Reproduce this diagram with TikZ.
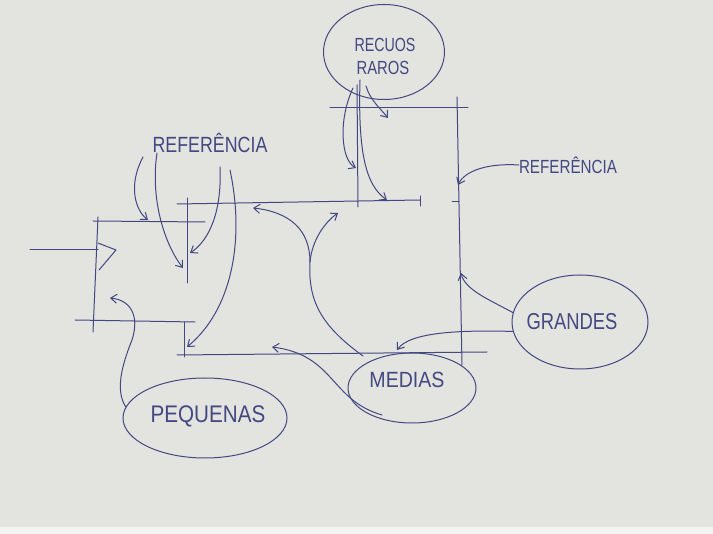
\documentclass[tikz,border=0pt]{standalone}
\usepackage{fontspec}
\setmainfont{Liberation Sans}
\usetikzlibrary{arrows.meta,shapes.geometric}
\definecolor{ink}{HTML}{434880}
\definecolor{paper}{HTML}{E3E3E0}
\newcommand\handtext[3]{\fontsize{#1}{#1}\selectfont\scalebox{#2}[1]{#3}}
\tikzset{
  pen/.style={draw=ink, line width=1pt, line cap=round, line join=round},
  arr/.style={pen, -{Straight Barb[length=6pt,width=9pt]}},
  ell/.style={ellipse, draw=ink, line width=1pt, inner sep=0pt},
  lbl/.style={text=ink, inner sep=0pt},
}
\begin{document}
\begin{tikzpicture}[x=1pt,y=-1pt]
\useasboundingbox (0,0) rectangle (713,534);
\fill[paper] (0,0) rectangle (713,534);
\fill[white!55!paper] (0,527) rectangle (713,534);

% ellipses
\node[ell, minimum width=121pt, minimum height=95pt] (recuos) at (384,52) {};
\node[ell, minimum width=136pt, minimum height=94pt] (grandes) at (580,322) {};
\node[ell, minimum width=128pt, minimum height=70pt] (medias) at (412,388) {};
\node[ell, minimum width=164pt, minimum height=80pt] (pequenas) at (205,418) {};

% labels
\node[lbl] (t1) at (385,45) {\handtext{19}{0.75}{RECUOS}};
\node[lbl] (t2) at (383,68) {\handtext{19}{0.78}{RAROS}};
\node[lbl] (ref1) at (210,143) {\handtext{22}{0.81}{REFERÊNCIA}};
\node[lbl] (ref2) at (568,165) {\handtext{19}{0.8}{REFERÊNCIA}};
\node[lbl] (tg) at (572,322) {\handtext{23}{0.8}{GRANDES}};
\node[lbl] (tm) at (407,380) {\handtext{22}{0.89}{MEDIAS}};
\node[lbl] (tp) at (208,416) {\handtext{24}{0.86}{PEQUENAS}};

% dimension lines
\coordinate (inA) at (30,250);
\coordinate (inB) at (98,250);
\draw[pen] (inA) -- (inB);
\draw[pen] (98,243) -- (116,250) -- (99,270);
\draw[pen] (93,221) -- (205,222);
\draw[pen] (98,217) -- (93,332);
\draw[pen] (75,320) -- (195,322);
\draw[pen] (187,198) -- (187,283);
\draw[pen] (177,204) -- (420,200);
\draw[pen] (420,196) -- (420,206);
\draw[pen] (357,85) -- (358,207);
\draw[pen] (330,108) -- (468,108);
\draw[pen] (457,97) -- (462,365);
\draw[pen] (452,202) -- (459,202);
\draw[pen] (177,355) -- (487,352);
\draw[pen] (184,322) -- (184,357);

% arrows from RECUOS RAROS
\coordinate (r1) at (353,88);
\coordinate (r2) at (360,80);
\coordinate (r3) at (366,86);
\draw[arr] (r1) .. controls (338,120) and (341,160) .. (356,168);
\draw[arr] (r2) .. controls (358,150) and (365,185) .. (387,200);
\draw[arr] (r3) .. controls (370,100) and (380,108) .. (388,118);

% arrows from left REFERENCIA
\coordinate (b1) at (143,157);
\coordinate (b2) at (157,153);
\coordinate (b3) at (220,167);
\coordinate (b4) at (230,170);
\draw[arr] (b1) .. controls (128,185) and (135,210) .. (148,220);
\draw[arr] (b2) .. controls (150,200) and (165,245) .. (183,268);
\draw[arr] (b3) .. controls (222,210) and (210,240) .. (190,253);
\draw[arr] (b4) .. controls (245,240) and (232,310) .. (187,347);

% right REFERENCIA
\draw[arr] (ref2.west) .. controls (490,163) and (465,170) .. (458,185);

% GRANDES
\draw[arr] (grandes.172) .. controls (490,300) and (465,290) .. (461,273);
\draw[arr] (grandes.188) .. controls (460,330) and (410,332) .. (397,350);

% MEDIAS
\coordinate (m1) at (363,356);
\coordinate (split) at (310,262);
\draw[arr] (m1) .. controls (320,325) and (308,300) .. (split)
  .. controls (310,230) and (290,212) .. (253,208);
\draw[arr] (split) .. controls (312,240) and (325,222) .. (338,213);
\coordinate (m3) at (382,415);
\draw[arr] (m3) .. controls (330,400) and (335,355) .. (272,347);

% PEQUENAS
\draw[arr] (pequenas.172) .. controls (115,390) and (122,365) .. (132,340)
  .. controls (140,315) and (130,300) .. (110,298);
\end{tikzpicture}
\end{document}
